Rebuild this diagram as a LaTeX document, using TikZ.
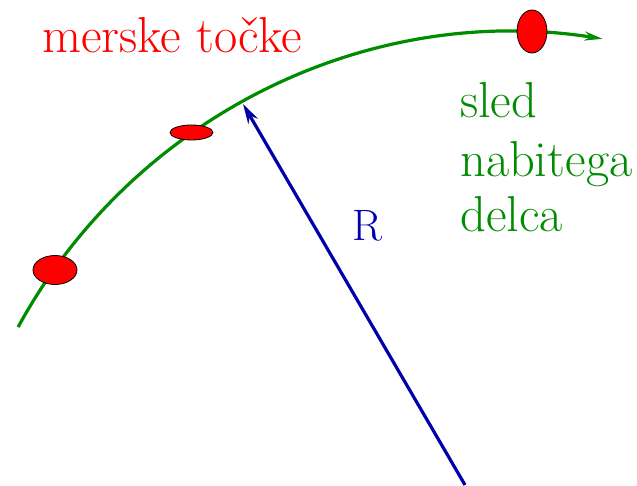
\documentclass[tikz,border=0pt]{standalone}
\usetikzlibrary{arrows.meta,calc}
\definecolor{trackgreen}{RGB}{0,140,0}
\definecolor{radblue}{RGB}{0,0,170}
\definecolor{ptred}{RGB}{255,0,0}
\tikzset{
  track/.style={trackgreen, line width=3.2pt, -{Stealth[length=18pt,width=9pt]}},
  radius arrow/.style={radblue, line width=3.2pt, -{Stealth[length=20pt,width=11pt]}},
  hitpt/.style={fill=ptred, draw=black, line width=0.8pt},
  lbl/.style={inner sep=0pt, anchor=base west, font=\rmfamily\fontsize{50.5}{58}\selectfont}
}
\begin{document}
\begin{tikzpicture}[x=1pt,y=1pt]
\useasboundingbox (0,0) rectangle (637,485);
% track (circular arc)
\coordinate (ctr) at (515,-113);
\draw[track] ($(ctr)+(151.4:566)$) arc[start angle=151.4, end angle=81.1, radius=566];
% radius arrow
\coordinate (rbase) at (465,0);
\coordinate (rtip) at (243,381);
\draw[radius arrow] (rbase) -- (rtip);
% measurement points
\draw[hitpt] (55,215) ellipse[x radius=22, y radius=14.5];
\draw[hitpt] (191.5,352.5) ellipse[x radius=21.5, y radius=7.5];
\draw[hitpt] (532,453.5) ellipse[x radius=15, y radius=21.5];
% labels
\node[lbl, text=ptred] (mt) at (42,432) {merske točke};
\node[lbl, text=trackgreen] (l1) at (460,367) {sled};
\node[lbl, text=trackgreen] (l2) at (460,308) {nabitega};
\node[lbl, text=trackgreen] (l3) at (460,253) {delca};
\node[lbl, text=radblue, font=\rmfamily\fontsize{44}{50}\selectfont] (r) at (352,244) {R};
\end{tikzpicture}
\end{document}
